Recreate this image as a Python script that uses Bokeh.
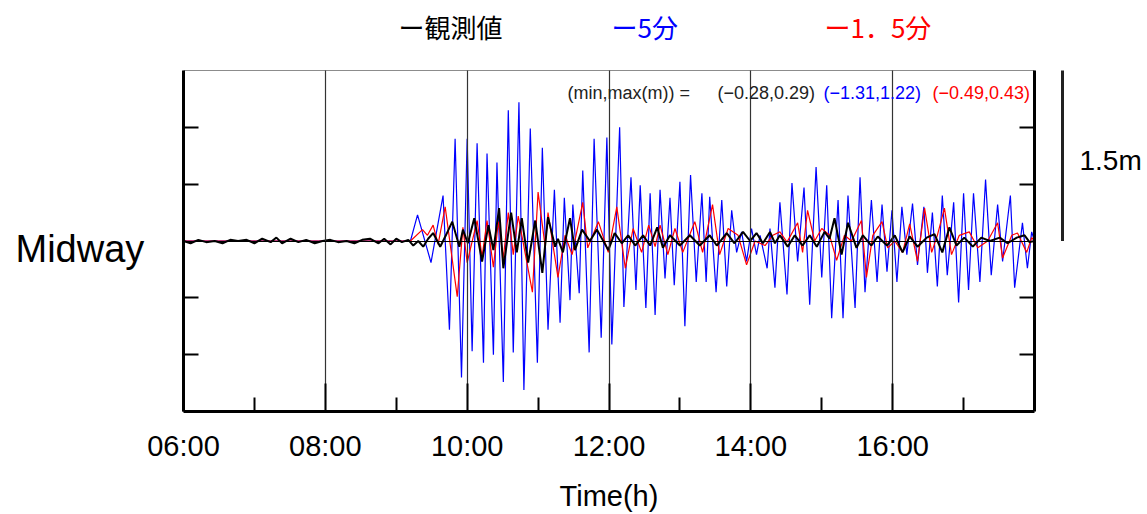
from bokeh.plotting import figure
from bokeh.models import FixedTicker, LinearAxis, Label, Arrow, CustomJSTickFormatter, Range1d
from bokeh.embed import file_html
from bokeh.resources import INLINE

# ---------------- data (hours, metres) ----------------
obs_t = [6.00, 6.10, 6.21, 6.32, 6.44, 6.55, 6.66, 6.77, 6.89, 7.00,
         7.11, 7.23, 7.31, 7.39, 7.51, 7.62, 7.73, 7.85, 7.96, 8.07,
         8.18, 8.30, 8.41, 8.52, 8.63, 8.75, 8.83, 8.92, 9.00, 9.08,
         9.17, 9.24, 9.31, 9.38, 9.45, 9.52, 9.62, 9.70, 9.79, 9.89,
         9.94, 10.01, 10.10, 10.21, 10.30, 10.37, 10.45, 10.51, 10.62, 10.70,
         10.77, 10.86, 10.96, 11.06, 11.14, 11.24, 11.28, 11.35, 11.45, 11.52,
         11.62, 11.73, 11.83, 11.99, 12.08, 12.18, 12.27, 12.37, 12.48, 12.58,
         12.68, 12.76, 12.86, 13.00, 13.14, 13.28, 13.42, 13.52, 13.66, 13.77,
         13.89, 13.99, 14.08, 14.17, 14.27, 14.34, 14.41, 14.52, 14.62, 14.73,
         14.83, 14.93, 15.04, 15.11, 15.18, 15.28, 15.37, 15.49, 15.58, 15.70,
         15.79, 15.92, 16.03, 16.14, 16.24, 16.35, 16.48, 16.59, 16.70, 16.80,
         16.90, 17.01, 17.13, 17.25, 17.37, 17.51, 17.62, 17.75, 17.86, 17.93,
         18.00]
obs_v = [0.0, -0.02, 0.01, -0.01, 0.0, -0.02, 0.01, 0.0, 0.01, -0.02,
         0.02, -0.01, 0.03, -0.02, 0.02, -0.01, 0.01, -0.02, 0.0, 0.01,
         -0.01, 0.0, -0.02, 0.01, 0.02, -0.02, 0.02, -0.03, 0.02, -0.01,
         0.01, -0.04, 0.0, -0.05, 0.02, 0.07, -0.05, 0.05, 0.17, -0.05,
         0.10, -0.02, 0.20, -0.18, 0.14, -0.08, 0.29, -0.24, 0.25, -0.10,
         0.20, -0.19, 0.18, -0.28, 0.21, -0.05, 0.02, -0.10, 0.20, -0.08,
         0.10, 0.0, 0.10, -0.08, 0.07, -0.02, 0.05, -0.04, 0.05, -0.04,
         0.12, -0.06, 0.05, -0.04, 0.05, -0.04, 0.05, -0.04, 0.07, -0.02,
         0.08, 0.0, 0.07, -0.02, 0.08, -0.02, 0.05, -0.05, 0.05, -0.04,
         0.05, -0.05, 0.08, 0.02, 0.20, -0.12, 0.16, -0.06, 0.05, -0.04,
         0.04, -0.04, 0.05, -0.10, 0.04, -0.05, 0.03, 0.06, -0.10, 0.12,
         -0.04, 0.03, -0.05, 0.03, 0.0, 0.03, -0.02, 0.03, 0.05, -0.01,
         0.0]

m5_t = [6.00, 9.20, 9.30, 9.49, 9.66, 9.75, 9.83, 9.92, 10.00, 10.07,
        10.14, 10.23, 10.28, 10.37, 10.42, 10.51, 10.58, 10.65, 10.73, 10.80,
        10.89, 10.99, 11.06, 11.14, 11.23, 11.31, 11.37, 11.45, 11.49, 11.58,
        11.63, 11.72, 11.79, 11.89, 11.97, 12.04, 12.15, 12.21, 12.31, 12.38,
        12.44, 12.52, 12.58, 12.65, 12.72, 12.79, 12.86, 12.92, 13.00, 13.07,
        13.15, 13.23, 13.31, 13.37, 13.42, 13.51, 13.59, 13.66, 13.73, 13.80,
        13.87, 13.94, 14.01, 14.08, 14.13, 14.23, 14.27, 14.34, 14.41, 14.51,
        14.58, 14.66, 14.75, 14.83, 14.92, 15.00, 15.07, 15.14, 15.23, 15.30,
        15.37, 15.47, 15.54, 15.61, 15.70, 15.78, 15.85, 15.92, 15.99, 16.06,
        16.13, 16.20, 16.28, 16.35, 16.44, 16.49, 16.56, 16.63, 16.70, 16.77,
        16.86, 16.93, 17.00, 17.07, 17.14, 17.23, 17.31, 17.39, 17.48, 17.55,
        17.66, 17.72, 17.83, 17.90, 17.96, 18.00]
m5_v = [0.0, 0.0, 0.23, -0.19, 0.40, -0.78, 0.90, -1.20, 0.90, -0.97,
        0.86, -1.07, 0.77, -1.00, 0.69, -1.24, 1.15, -0.98, 1.22, -1.31,
        0.99, -1.07, 0.82, -0.78, 0.45, -0.72, 0.38, -0.52, 0.32, -0.46,
        0.62, -0.98, 0.90, -0.85, 0.91, -0.91, 1.00, -0.58, 0.56, -0.43,
        0.49, -0.59, 0.42, -0.65, 0.45, -0.33, 0.38, -0.39, 0.52, -0.75,
        0.58, -0.36, 0.42, -0.36, 0.39, -0.45, 0.36, -0.40, 0.27, -0.10,
        0.08, -0.18, 0.11, -0.12, 0.05, -0.24, 0.11, -0.41, 0.34, -0.47,
        0.51, -0.18, 0.47, -0.56, 0.65, -0.32, 0.49, -0.68, 0.36, -0.68,
        0.40, -0.59, 0.56, -0.45, 0.36, -0.36, 0.32, -0.27, 0.27, -0.36,
        0.30, -0.12, 0.33, -0.21, 0.30, -0.28, 0.25, -0.40, 0.40, -0.30,
        0.34, -0.54, 0.42, -0.43, 0.42, -0.36, 0.54, -0.30, 0.32, -0.18,
        0.40, -0.41, 0.16, -0.24, 0.08, 0.0]

m15_t = [6.00, 9.20, 9.37, 9.44, 9.52, 9.59, 9.69, 9.86, 9.94, 10.00,
         10.14, 10.21, 10.28, 10.37, 10.44, 10.51, 10.58, 10.65, 10.72, 10.92,
         11.00, 11.10, 11.14, 11.28, 11.38, 11.48, 11.63, 11.70, 11.85, 11.99,
         12.11, 12.23, 12.34, 12.46, 12.56, 12.65, 12.72, 12.83, 12.93, 13.04,
         13.21, 13.32, 13.46, 13.56, 13.68, 13.82, 13.94, 14.06, 14.20, 14.31,
         14.41, 14.51, 14.66, 14.73, 14.80, 14.90, 15.00, 15.11, 15.21, 15.32,
         15.42, 15.56, 15.63, 15.72, 15.85, 15.93, 16.03, 16.14, 16.24, 16.35,
         16.45, 16.55, 16.63, 16.73, 16.83, 16.94, 17.08, 17.20, 17.34, 17.48,
         17.55, 17.68, 17.76, 17.89, 17.96, 18.00]
m15_v = [0.0, 0.0, 0.10, 0.05, 0.14, -0.03, 0.30, -0.49, 0.12, -0.19,
         0.18, -0.14, 0.18, -0.23, 0.17, -0.15, 0.25, -0.12, 0.22, -0.45,
         0.43, -0.05, 0.25, -0.32, 0.05, -0.12, 0.34, -0.06, 0.17, -0.10,
         0.30, -0.24, 0.11, -0.10, 0.14, -0.05, 0.14, -0.12, 0.11, -0.10,
         0.17, -0.10, 0.32, -0.12, 0.11, 0.05, -0.21, 0.0, -0.04, 0.05,
         0.08, -0.01, 0.16, -0.10, 0.27, 0.0, 0.11, 0.05, -0.17, 0.05,
         0.0, 0.18, -0.32, 0.05, 0.17, -0.06, 0.0, -0.10, 0.15, -0.18,
         0.29, -0.10, 0.05, 0.29, -0.12, 0.05, 0.08, -0.06, 0.0, 0.16,
         -0.15, 0.05, 0.07, -0.10, 0.03, 0.0]

assert len(obs_t) == len(obs_v) and len(m5_t) == len(m5_v) and len(m15_t) == len(m15_v)

series_names = ["ー観測値", "ー5分", "ー1．5分"]
station = "Midway"
x_start, x_end = 6, 18
y_start, y_end = -1.5, 1.5
major_hours = [6, 8, 10, 12, 14, 16]
minor_hours = [7, 9, 11, 13, 15, 17]
tick_labels = ["06:00", "08:00", "10:00", "12:00", "14:00", "16:00"]
grid_hours = [8, 10, 12, 14, 16]
y_ticks = [-1.0, -0.5, 0.5, 1.0]
scale_bar_m = 1.5

# ---------------- layout (canvas pixels) ----------------
W, H = 1147, 514
BOX_L, BOX_R, BOX_T, BOX_B = 183, 1034, 70, 411
KX = (BOX_R - BOX_L) / (x_end - x_start)
KY = (BOX_B - BOX_T) / (y_end - y_start)


def px2x(px):
    return x_start + (px - BOX_L) / KX


def px2y(py):
    return y_end - (py - BOX_T) / KY


SANS = "Liberation Sans"
CJK = "Noto Sans CJK JP"
BLUE = "#0000ff"
RED = "#ff0000"
BLACK = "#000000"
GRID = "#333333"
EMPTY = "return ''"

p = figure(width=W, height=H,
           x_range=Range1d(px2x(0), px2x(W)), y_range=Range1d(px2y(H), px2y(0)),
           x_axis_type=None, y_axis_type=None, min_border=0,
           output_backend="svg", toolbar_location=None)
p.background_fill_color = "white"
p.border_fill_color = "white"
p.outline_line_color = None

# series (drawn first, guides on top)
p.line(m5_t, m5_v, line_color=BLUE, line_width=1.2)
p.line(m15_t, m15_v, line_color=RED, line_width=1.2)
p.line(obs_t, obs_v, line_color=BLACK, line_width=2)

# top edge of the box + full-height vertical hour lines
top = LinearAxis(fixed_location=y_end, bounds=(x_start, x_end),
                 ticker=FixedTicker(ticks=grid_hours),
                 formatter=CustomJSTickFormatter(code=EMPTY),
                 major_tick_in=BOX_B - BOX_T, major_tick_out=0,
                 major_tick_line_color=GRID, major_tick_line_width=1.2,
                 minor_tick_line_color=None,
                 axis_line_color="#8c8c8c", axis_line_width=1)
p.add_layout(top, "above")

# zero line across the box
zero = LinearAxis(fixed_location=x_start, bounds=(y_start, y_end),
                  ticker=FixedTicker(ticks=[0]),
                  formatter=CustomJSTickFormatter(code=EMPTY),
                  major_tick_in=BOX_R - BOX_L, major_tick_out=0,
                  major_tick_line_color=BLACK, major_tick_line_width=1.2,
                  minor_tick_line_color=None, axis_line_color=None)
p.add_layout(zero, "left")

# bottom axis
xa = LinearAxis(fixed_location=y_start, bounds=(x_start, x_end),
                ticker=FixedTicker(ticks=major_hours, minor_ticks=minor_hours),
                major_label_overrides={h: lab for h, lab in zip(major_hours, tick_labels)},
                major_tick_in=28, major_tick_out=0, minor_tick_in=14, minor_tick_out=0,
                major_tick_line_width=2, minor_tick_line_width=2, axis_line_width=3,
                major_label_text_font=SANS, major_label_text_font_size="29px",
                major_label_text_color=BLACK, major_label_standoff=18,
                axis_label="Time(h)", axis_label_text_font=SANS,
                axis_label_text_font_size="29px", axis_label_text_font_style="normal",
                axis_label_text_color=BLACK, axis_label_standoff=15)
p.add_layout(xa, "below")

# left / right axes (ticks only)
for side, loc in (("left", x_start), ("right", x_end)):
    ax = LinearAxis(fixed_location=loc, bounds=(y_start, y_end),
                    ticker=FixedTicker(ticks=y_ticks),
                    formatter=CustomJSTickFormatter(code=EMPTY),
                    major_tick_in=15, major_tick_out=0, major_tick_line_width=2,
                    minor_tick_line_color=None, axis_line_width=3)
    p.add_layout(ax, side)

# legend-like header
for name, lx, col in zip(series_names, [398, 611, 824], [BLACK, BLUE, RED]):
    p.add_layout(Label(x=px2x(lx), y=px2y(26), text=name, text_font=CJK,
                       text_font_size="26px", text_color=col, text_baseline="middle"))


# min/max annotation
def mm(v):
    return ("(%.2f,%.2f)" % (min(v), max(v))).replace("-", "−")


p.add_layout(Label(x=px2x(567), y=px2y(92), text="(min,max(m)) =", text_font=SANS,
                   text_font_size="18px", text_color="#222222", text_baseline="middle"))
for vals, lx, col in zip([obs_v, m5_v, m15_v], [717, 823, 932], ["#222222", BLUE, RED]):
    p.add_layout(Label(x=px2x(lx), y=px2y(92), text=mm(vals), text_font=SANS,
                       text_font_size="18px", text_color=col, text_baseline="middle"))

# station name
p.add_layout(Label(x=px2x(15), y=px2y(248), text=station, text_font=SANS,
                   text_font_size="38px", text_color=BLACK, text_baseline="middle"))

# scale bar
p.add_layout(Arrow(start=None, end=None, x_start=px2x(1062), y_start=0,
                   x_end=px2x(1062), y_end=scale_bar_m, line_width=3, line_color="#222222"))
p.add_layout(Label(x=px2x(1079), y=px2y(160), text="%.1fm" % scale_bar_m, text_font=SANS,
                   text_font_size="28px", text_color=BLACK, text_baseline="middle"))

open("out.html", "w").write(file_html(p, INLINE, title="Midway"))
